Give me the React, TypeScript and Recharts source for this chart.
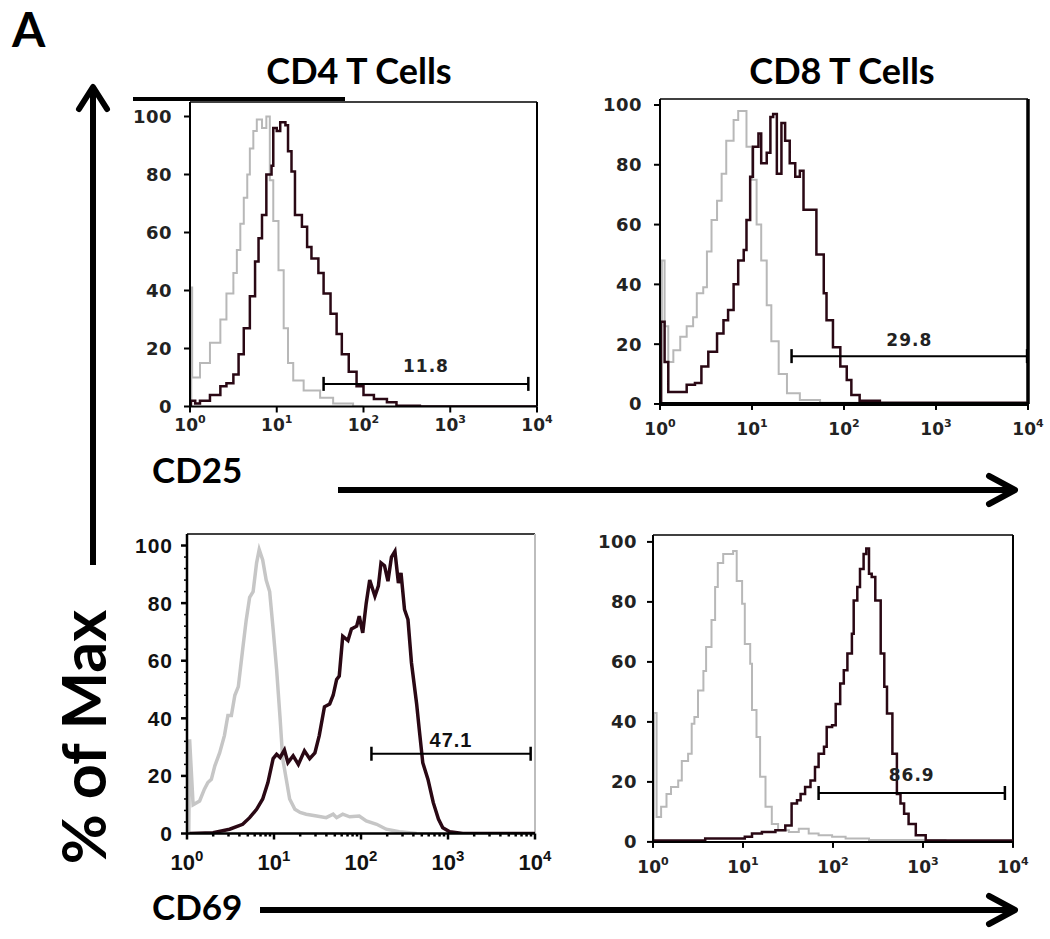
import React from 'react';
import { LineChart, Line, XAxis, YAxis, ReferenceLine } from 'recharts';

type Pt = [number, number];
type Gate = { from: number; to: number; y: number; label: string };

// x = decade (log10 of fluorescence), y = % of max
const cd4Cd25Control: Pt[] = [
  [0.01, 0], [0.015, 41], [0.025, 10], [0.115, 15], [0.23, 22], [0.35, 30], [0.42, 39], [0.5, 46],
  [0.54, 54], [0.58, 63], [0.62, 72], [0.66, 80], [0.69, 89], [0.73, 95], [0.77, 99], [0.83, 96],
  [0.88, 100], [0.92, 78], [0.96, 64], [1.02, 47], [1.08, 27], [1.13, 15], [1.19, 9], [1.31, 5.5],
  [1.5, 3], [1.65, 1], [1.88, 0], [2.0, 0],
];
const cd4Cd25Stained: Pt[] = [
  [0, 0], [0.01, 2], [0.06, 1], [0.115, 2], [0.23, 4], [0.35, 7], [0.42, 8], [0.5, 11], [0.56, 18],
  [0.62, 27], [0.69, 38], [0.75, 50], [0.79, 58], [0.83, 66], [0.88, 80], [0.94, 83], [0.96, 96],
  [1.0, 95], [1.04, 98], [1.1, 97], [1.13, 88], [1.17, 81], [1.21, 66], [1.29, 62], [1.35, 55],
  [1.4, 51], [1.48, 46], [1.54, 39], [1.62, 32], [1.69, 25], [1.75, 18], [1.83, 12], [1.92, 7],
  [2.0, 4], [2.12, 2.6], [2.27, 1.5], [2.38, 0.3], [2.65, 0], [4, 0],
];
const cd8Cd25Control: Pt[] = [
  [0.01, 0], [0.02, 48], [0.05, 26], [0.09, 14], [0.145, 18], [0.22, 22.5], [0.29, 26], [0.36, 29],
  [0.4, 37], [0.47, 39], [0.51, 51], [0.56, 61.5], [0.62, 68], [0.67, 77], [0.72, 88], [0.8, 95],
  [0.85, 98], [0.94, 86], [1.0, 75], [1.05, 60], [1.1, 48], [1.16, 33], [1.21, 21], [1.29, 10],
  [1.38, 3.6], [1.52, 1.3], [1.74, 0.4], [2.39, 0],
];
const cd8Cd25Stained: Pt[] = [
  [0, 0], [0.01, 27.5], [0.05, 14], [0.09, 4], [0.22, 4], [0.29, 6.4], [0.38, 7], [0.45, 12.5],
  [0.525, 17.5], [0.62, 23.6], [0.69, 28], [0.74, 31.4], [0.8, 40], [0.85, 48], [0.91, 51.5],
  [0.94, 61.5], [0.98, 76], [1.01, 86], [1.07, 90.5], [1.1, 80.5], [1.16, 84], [1.2, 96], [1.23, 97],
  [1.27, 77], [1.32, 94], [1.36, 88], [1.41, 80.5], [1.47, 76], [1.52, 78], [1.56, 65], [1.63, 65],
  [1.7, 50], [1.78, 37], [1.81, 28], [1.88, 19], [1.96, 12.5], [2.03, 8], [2.08, 3], [2.17, 1.1],
  [2.39, 0.4], [3.99, 0.2],
];
const cd4Cd69Control: Pt[] = [
  [0.02, 0], [0.03, 32.7], [0.07, 10], [0.145, 11.3], [0.2, 15.4], [0.24, 17.7], [0.28, 18.8],
  [0.32, 23.5], [0.375, 28], [0.43, 34], [0.47, 41], [0.51, 41], [0.55, 48], [0.59, 51], [0.64, 64],
  [0.68, 74], [0.72, 82], [0.76, 84], [0.8, 94], [0.83, 98.6], [0.87, 95], [0.91, 88], [0.95, 84],
  [0.99, 71], [1.03, 57], [1.07, 40], [1.1, 26], [1.14, 19], [1.18, 12], [1.24, 8.4], [1.3, 7.3],
  [1.37, 6.7], [1.49, 6.1], [1.6, 5.5], [1.68, 6.7], [1.72, 5.5], [1.79, 6.7], [1.87, 5.8],
  [1.98, 6.1], [2.06, 4.4], [2.18, 3.2], [2.29, 1.5], [2.44, 0.6], [2.64, 0],
];
const cd4Cd69Stained: Pt[] = [
  [0.03, 0], [0.3, 0.3], [0.49, 1.5], [0.64, 3.2], [0.72, 5.5], [0.8, 8.4], [0.87, 12], [0.93, 17.7],
  [0.99, 26], [1.03, 27.5], [1.07, 26.4], [1.12, 29], [1.16, 24.6], [1.22, 27], [1.28, 24],
  [1.35, 28.7], [1.41, 26], [1.47, 28], [1.52, 34], [1.58, 44], [1.64, 45], [1.68, 48], [1.72, 53.5],
  [1.75, 54.7], [1.79, 68.5], [1.85, 67], [1.89, 71], [1.95, 72], [1.98, 75.5], [2.02, 69.7],
  [2.06, 80], [2.1, 88], [2.16, 82.4], [2.2, 86], [2.23, 94], [2.27, 93], [2.31, 87.6], [2.35, 96],
  [2.39, 98], [2.43, 87], [2.46, 90.5], [2.5, 77.8], [2.54, 74.3], [2.58, 59.3], [2.64, 44.9],
  [2.67, 36], [2.71, 24.6], [2.77, 18.8], [2.83, 10.8], [2.89, 5], [2.94, 2], [3.02, 0.6], [3.17, 0],
  [4, 0],
];
const cd8Cd69Control: Pt[] = [
  [0.005, 0], [0.01, 43], [0.04, 8.3], [0.09, 11.7], [0.15, 16], [0.2, 18.3], [0.28, 20.5], [0.32, 27],
  [0.39, 29.4], [0.43, 39.4], [0.46, 41.6], [0.5, 50.5], [0.56, 57], [0.59, 65], [0.65, 74], [0.69, 85],
  [0.72, 93], [0.78, 96], [0.84, 96], [0.89, 97], [0.93, 87], [0.99, 79.4], [1.02, 66], [1.08, 59.4],
  [1.1, 44], [1.15, 35], [1.19, 21.7], [1.25, 11.7], [1.32, 6], [1.39, 3.9], [1.51, 3.3], [1.62, 4.4],
  [1.73, 2.8], [1.84, 2.2], [1.99, 1.7], [2.14, 1.1], [2.4, 0.6], [3.25, 0.3],
];
const cd8Cd69Stained: Pt[] = [
  [0, 0.5], [0.58, 1.1], [1.02, 1.7], [1.1, 2.8], [1.21, 3.3], [1.36, 3.9], [1.47, 5.5], [1.54, 12.8],
  [1.6, 13.9], [1.64, 16], [1.69, 18.3], [1.75, 20.5], [1.8, 25], [1.84, 29.4], [1.9, 31.7],
  [1.93, 38.3], [1.99, 38.9], [2.03, 46], [2.08, 52.8], [2.12, 57.2], [2.16, 62.8], [2.21, 69.4],
  [2.23, 80.5], [2.27, 85], [2.3, 91], [2.34, 96], [2.37, 97.8], [2.4, 89.4], [2.43, 88.3],
  [2.47, 80.5], [2.53, 62.8], [2.57, 51.7], [2.6, 42.8], [2.66, 29.4], [2.71, 16], [2.75, 12.8],
  [2.79, 9.4], [2.84, 6], [2.92, 2.2], [3.03, 0.5], [4, 0],
];

// gates, in decades
const cd4Cd25Gate: Gate = { from: 1.54, to: 3.9, y: 7.8, label: '11.8' };
const cd8Cd25Gate: Gate = { from: 1.43, to: 3.99, y: 16, label: '29.8' };
const cd4Cd69Gate: Gate = { from: 2.12, to: 3.95, y: 27.7, label: '47.1' };
const cd8Cd69Gate: Gate = { from: 1.84, to: 3.91, y: 16.3, label: '86.9' };

const decadeTicks = [1, 10, 100, 1000, 10000];
const minorTicks = [1, 10, 100, 1000].flatMap((b) => [1, 2, 3, 4, 5, 6, 7, 8, 9].map((k) => k * b)).concat([10000]);
const pctTicks = [0, 20, 40, 60, 80, 100];
const pctTicksFine = [0, 4, 8, 12, 16, 20, 24, 28, 32, 36, 40, 44, 48, 52, 56, 60, 64, 68, 72, 76, 80, 84, 88, 92, 96, 100];

const DARK = '#2a0814';
const TS = 6;
const TM = 4;
const HEAD = 'Lato, "Open Sans", sans-serif';

const toRows = (pts: Pt[]) => pts.map(([d, y]) => ({ x: Math.pow(10, d), y }));

type Look = {
  font: string; ySize: number; xSize: number; supSize: number; supRise: number; spacing: number;
  xBase: number; yGap: number; axisW: number; ctrl: string; ctrlW: number; stainW: number;
  labelSize: number; fill: string;
};

const oldLook = (xBase: number, yGap: number): Look => ({
  font: '"DejaVu Sans", sans-serif', ySize: 18, xSize: 17, supSize: 11, supRise: 8, spacing: 0.5,
  xBase, yGap, axisW: 2, ctrl: '#b8b8b8', ctrlW: 2, stainW: 2.5, labelSize: 17, fill: '#222',
});

type PanelProps = {
  left: number; right: number; y0: number; y100: number; yMax: number;
  control: Pt[]; stained: Pt[]; gate: Gate; look: Look; smooth?: boolean;
  labelOffset: number; topColor?: string; rightColor?: string; rightW?: number; baseW?: number;
};

function Panel(p: PanelProps) {
  const { look } = p;
  const unit = (p.y0 - p.y100) / 100;
  const top = p.y0 - unit * p.yMax;
  const w = p.right - p.left + 90;
  const h = p.y0 - top + 60;
  const cap = 7 / unit;
  const xt = p.smooth ? minorTicks : decadeTicks;
  const yt = p.smooth ? pctTicksFine : pctTicks;

  const xTick = (props: any) => {
    const { x, y, payload } = props;
    const e = Math.log10(payload.value);
    const major = Math.abs(e - Math.round(e)) < 1e-6;
    const ay = y - TS - TM;
    return (
      <g>
        <line x1={x} x2={x} y1={ay} y2={ay + (major ? 6 : 3)} stroke="#000" strokeWidth={look.axisW} />
        {major && (
          <text x={x} y={ay + look.xBase} textAnchor="middle" fontFamily={look.font} fontSize={look.xSize}
            fontWeight="bold" fill={look.fill}>
            <tspan>10</tspan>
            <tspan dy={-look.supRise} fontSize={look.supSize}>{Math.round(e)}</tspan>
          </text>
        )}
      </g>
    );
  };

  const yTick = (props: any) => {
    const { x, y, payload } = props;
    const v = payload.value as number;
    const major = v % 20 === 0;
    const ax = x + TS + TM;
    return (
      <g>
        <line x1={ax - (major ? 6 : 3)} x2={ax} y1={y} y2={y} stroke="#000" strokeWidth={major ? look.axisW : 1.5} />
        {major && (
          <text x={ax - look.yGap} y={y} dy="0.36em" textAnchor="end" fontFamily={look.font} fontSize={look.ySize}
            fontWeight="bold" fill={look.fill} letterSpacing={look.spacing}>
            {v}
          </text>
        )}
      </g>
    );
  };

  const g = p.gate;
  const gx1 = Math.pow(10, g.from);
  const gx2 = Math.pow(10, g.to);

  return (
    <div style={{ position: 'absolute', left: p.left - 70, top: top - 10, width: w, height: h }}>
      <LineChart width={w} height={h} margin={{ top: 10, right: 20, bottom: 0, left: 0 }}>
        <XAxis dataKey="x" type="number" scale="log" domain={[1, 10000]} ticks={xt} interval={0}
          height={50} tickSize={TS} tickMargin={TM} tickLine={false} tick={xTick}
          axisLine={{ stroke: '#000', strokeWidth: p.baseW ?? look.axisW }} allowDataOverflow />
        <YAxis type="number" domain={[0, p.yMax]} ticks={yt} interval={0} width={70}
          tickSize={TS} tickMargin={TM} tickLine={false} tick={yTick}
          axisLine={{ stroke: '#000', strokeWidth: look.axisW }} allowDataOverflow />
        <ReferenceLine y={p.yMax} stroke={p.topColor ?? '#000'} strokeWidth={1.5} ifOverflow="visible" />
        <ReferenceLine x={10000} stroke={p.rightColor ?? '#000'} strokeWidth={p.rightW ?? 2} ifOverflow="visible" />
        <Line data={toRows(p.control)} dataKey="y" type={p.smooth ? 'linear' : 'stepAfter'} stroke={look.ctrl}
          strokeWidth={look.ctrlW} dot={false} activeDot={false} isAnimationActive={false} />
        <Line data={toRows(p.stained)} dataKey="y" type={p.smooth ? 'linear' : 'stepAfter'} stroke={DARK}
          strokeWidth={look.stainW} dot={false} activeDot={false} isAnimationActive={false} />
        <ReferenceLine segment={[{ x: gx1, y: g.y }, { x: gx2, y: g.y }]} stroke="#000" strokeWidth={2}
          ifOverflow="visible"
          label={{ value: g.label, position: 'top', offset: p.labelOffset, fill: look.fill, fontSize: look.labelSize,
            fontWeight: 'bold', fontFamily: look.font, letterSpacing: 1 }} />
        <ReferenceLine segment={[{ x: gx1, y: g.y - cap }, { x: gx1, y: g.y + cap }]} stroke="#000" strokeWidth={2.5}
          ifOverflow="visible" />
        <ReferenceLine segment={[{ x: gx2, y: g.y - cap }, { x: gx2, y: g.y + cap }]} stroke="#000" strokeWidth={2.5}
          ifOverflow="visible" />
      </LineChart>
    </div>
  );
}

const newLook: Look = {
  font: '"Liberation Sans", Arial, sans-serif', ySize: 21, xSize: 22, supSize: 15, supRise: 9, spacing: 1,
  xBase: 36, yGap: 14, axisW: 2.5, ctrl: '#c6c6c6', ctrlW: 3.5, stainW: 3.5, labelSize: 20, fill: '#111',
};

function Arrow({ x1, y1, x2, y2 }: { x1: number; y1: number; x2: number; y2: number }) {
  const horiz = y1 === y2;
  const head = horiz
    ? `${x2 - 26},${y2 - 14} ${x2},${y2} ${x2 - 26},${y2 + 14}`
    : `${x2 - 14},${y2 + 22} ${x2},${y2} ${x2 + 14},${y2 + 22}`;
  return (
    <g stroke="#000" strokeWidth={6} fill="none" strokeLinecap="round" strokeLinejoin="round">
      <line x1={x1} y1={y1} x2={x2} y2={y2} strokeLinecap="butt" />
      <polyline points={head} />
    </g>
  );
}

export default function App() {
  return (
    <div style={{ position: 'absolute', left: 0, top: 0, width: 1050, height: 939, background: '#fff', overflow: 'hidden' }}>
      <Panel left={190} right={537} y0={406} y100={116} yMax={105} control={cd4Cd25Control}
        stained={cd4Cd25Stained} gate={cd4Cd25Gate} look={oldLook(24, 18)} labelOffset={12} />
      <Panel left={660} right={1028} y0={404} y100={105} yMax={102} control={cd8Cd25Control}
        stained={cd8Cd25Stained} gate={cd8Cd25Gate} look={oldLook(31, 18)} labelOffset={10}
        rightW={3.5} baseW={4} />
      <Panel left={187} right={535} y0={834} y100={546} yMax={104} control={cd4Cd69Control}
        stained={cd4Cd69Stained} gate={cd4Cd69Gate} look={newLook} smooth labelOffset={7} rightColor="#bdbdbd" />
      <Panel left={653} right={1013} y0={842} y100={542} yMax={102.3} control={cd8Cd69Control}
        stained={cd8Cd69Stained} gate={cd8Cd69Gate} look={oldLook(31, 16)} labelOffset={12} />

      <svg width={1050} height={939} style={{ position: 'absolute', left: 0, top: 0, pointerEvents: 'none' }}>
        <g fontFamily={HEAD} fontWeight="bold" fill="#000">
          <text x={12} y={47} fontSize={48}>A</text>
          <text x={359} y={84} fontSize={36} textAnchor="middle">CD4 T Cells</text>
          <text x={842} y={84} fontSize={36} textAnchor="middle">CD8 T Cells</text>
          <text x={152} y={483} fontSize={35}>CD25</text>
          <text x={152} y={920} fontSize={35}>CD69</text>
          <text x={0} y={0} fontSize={61} textAnchor="middle" transform="translate(106 737) rotate(-90)">% of Max</text>
        </g>
        <line x1={133} y1={99} x2={345} y2={99} stroke="#000" strokeWidth={4} />
        <Arrow x1={93} y1={565} x2={93} y2={87} />
        <Arrow x1={338} y1={490} x2={1015} y2={490} />
        <Arrow x1={260} y1={910} x2={1015} y2={910} />
      </svg>
    </div>
  );
}
